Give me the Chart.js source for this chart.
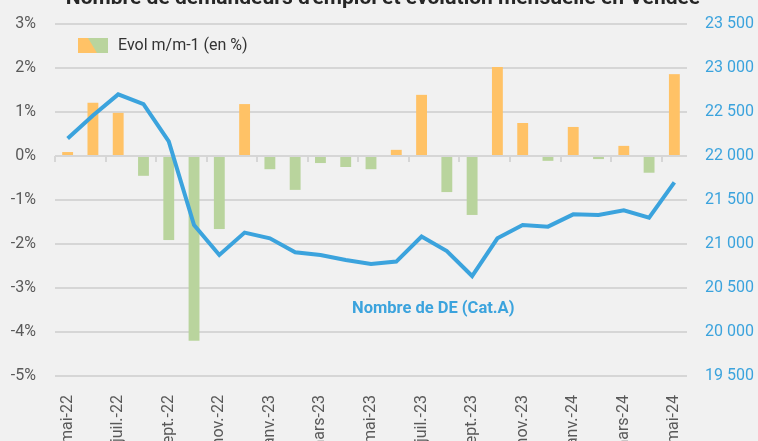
<!DOCTYPE html>
<html lang="fr">
<head>
<meta charset="utf-8">
<script src="https://cdn.jsdelivr.net/npm/chart.js@4.4.1/dist/chart.umd.min.js"></script>
<style>
  html, body { margin: 0; padding: 0; background: #f1f1f1; overflow: hidden; }
  #wrap { width: 758px; height: 441px; position: relative; }
</style>
</head>
<body>
<div id="wrap"><canvas id="chart" width="758" height="441"></canvas></div>
<script>
// Months on the x axis
const months = [
  "mai-22", "juin-22", "juil.-22", "août-22", "sept.-22", "oct.-22", "nov.-22", "déc.-22",
  "janv.-23", "févr.-23", "mars-23", "avr.-23", "mai-23", "juin-23", "juil.-23", "août-23",
  "sept.-23", "oct.-23", "nov.-23", "déc.-23", "janv.-24", "févr.-24", "mars-24", "avr.-24", "mai-24"
];

// Evol m/m-1 (en %) - bars, left axis
const evolPct = [
  0.09, 1.21, 0.98, -0.45, -1.91, -4.20, -1.66, 1.18,
  -0.30, -0.77, -0.16, -0.25, -0.30, 0.14, 1.39, -0.82,
  -1.34, 2.02, 0.75, -0.11, 0.66, -0.07, 0.23, -0.38, 1.86
];

// Nombre de DE (Cat.A) - line, right axis
const nbDE = [
  22200, 22460, 22700, 22590, 22165, 21215, 20875, 21130,
  21065, 20905, 20875, 20818, 20773, 20800, 21085, 20920,
  20636, 21065, 21215, 21197, 21337, 21330, 21383, 21300, 21700
];

const pctRange = { min: -5, max: 3, step: 1 };
const deRange = { min: 19500, max: 23500, step: 500 };

const titleText = "Nombre de demandeurs d'emploi et évolution mensuelle en Vendée";
const legendText = "Evol m/m-1 (en %)";
const lineLabel = "Nombre de DE (Cat.A)";

const orange = "#ffc266";
const green = "#b9d49d";
const blue = "#3ba3dd";
const gridGrey = "#d6d6d6";
const textGrey = "#595959";

// Title (cut off at top), legend, line label and zero-line ticks
const decorations = {
  id: "decorations",
  afterDraw(chart) {
    const { ctx, scales } = chart;
    const x = scales.x, y = scales.y;
    ctx.save();

    // small tick marks under the zero line, every 2 months
    const zeroY = y.getPixelForValue(0);
    const step = x.width / months.length;
    ctx.strokeStyle = gridGrey;
    ctx.lineWidth = 2;
    for (let i = 0; i < months.length; i += 2) {
      const px = Math.round(x.left + i * step);
      ctx.beginPath();
      ctx.moveTo(px, zeroY);
      ctx.lineTo(px, zeroY + 6);
      ctx.stroke();
    }

    // title, mostly outside the picture
    ctx.fillStyle = "#262626";
    ctx.font = "bold 21px Roboto";
    ctx.textAlign = "center";
    ctx.textBaseline = "alphabetic";
    ctx.fillText(titleText, 383, 4);

    // legend: split orange / green swatch
    const lx = 78, ly = 38, lw = 30, lh = 15;
    ctx.fillStyle = green;
    ctx.fillRect(lx, ly, lw, lh);
    ctx.fillStyle = orange;
    ctx.beginPath();
    ctx.moveTo(lx, ly);
    ctx.lineTo(lx + 10, ly);
    ctx.lineTo(lx + 19, ly + lh);
    ctx.lineTo(lx, ly + lh);
    ctx.closePath();
    ctx.fill();
    ctx.fillStyle = "#333333";
    ctx.font = "16px Roboto";
    ctx.textAlign = "left";
    ctx.textBaseline = "middle";
    ctx.fillText(legendText, 118, 46);

    // line label
    ctx.fillStyle = blue;
    ctx.font = "bold 16.5px Roboto";
    ctx.textBaseline = "alphabetic";
    ctx.fillText(lineLabel, 352, 313);

    ctx.restore();
  }
};

const fmtSpace = (v) => String(v).replace(/\B(?=(\d{3})+(?!\d))/g, " ");

new Chart(document.getElementById("chart"), {
  data: {
    labels: months,
    datasets: [
      {
        type: "line",
        label: lineLabel,
        data: nbDE,
        yAxisID: "y2",
        borderColor: blue,
        borderWidth: 4,
        pointRadius: 0,
        tension: 0,
        order: 0
      },
      {
        type: "bar",
        label: legendText,
        data: evolPct,
        yAxisID: "y",
        backgroundColor: evolPct.map((v) => (v >= 0 ? orange : green)),
        categoryPercentage: 1,
        barPercentage: 0.43,
        order: 1
      }
    ]
  },
  options: {
    responsive: false,
    animation: false,
    layout: { padding: { top: 24, left: 0, right: 0, bottom: 0 } },
    plugins: {
      legend: { display: false },
      tooltip: { enabled: false }
    },
    scales: {
      x: {
        offset: true,
        grid: { display: false },
        border: { display: false },
        afterFit: (s) => { s.height = 65; },
        ticks: {
          autoSkip: false,
          minRotation: 90,
          maxRotation: 90,
          padding: 11,
          color: textGrey,
          font: { family: "Roboto", size: 16 },
          callback: function (v, i) { return i % 2 === 0 ? this.getLabelForValue(v) : ""; }
        }
      },
      y: {
        position: "left",
        min: pctRange.min,
        max: pctRange.max,
        afterFit: (s) => { s.width = 55; },
        // invisible tick length keeps the labels away without adding top padding
        grid: { color: gridGrey, lineWidth: 2, drawTicks: true, tickLength: 19, tickColor: "rgba(0,0,0,0)" },
        border: { display: false },
        ticks: {
          stepSize: pctRange.step,
          padding: 0,
          color: textGrey,
          font: { family: "Roboto", size: 16 },
          callback: (v) => v + "%"
        }
      },
      y2: {
        position: "right",
        min: deRange.min,
        max: deRange.max,
        afterFit: (s) => { s.width = 71; },
        grid: { drawOnChartArea: false, drawTicks: true, tickLength: 18, tickColor: "rgba(0,0,0,0)" },
        border: { display: false },
        ticks: {
          stepSize: deRange.step,
          padding: 0,
          color: blue,
          font: { family: "Roboto", size: 16 },
          callback: (v) => fmtSpace(v)
        }
      }
    }
  },
  plugins: [decorations]
});
</script>
</body>
</html>
